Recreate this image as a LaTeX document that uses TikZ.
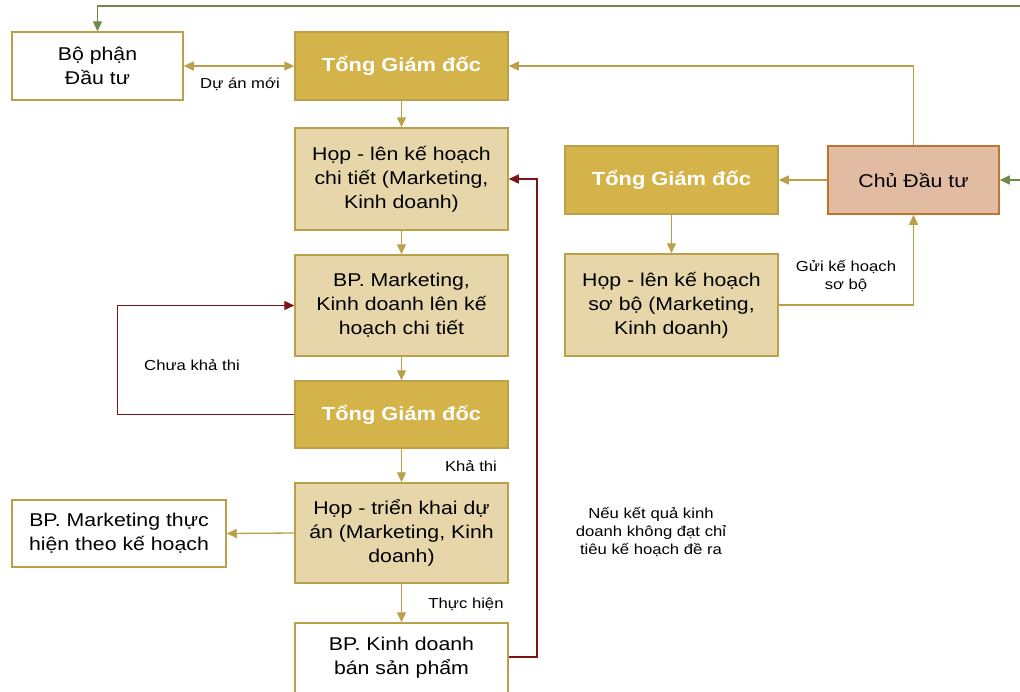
\documentclass[tikz,border=0pt]{standalone}
\usepackage{fontspec}
\setmainfont[FakeStretch=1.15]{Liberation Sans}
\usetikzlibrary{arrows.meta}
\definecolor{goldline}{HTML}{BBA04A}
\definecolor{darkgold}{HTML}{D4B44A}
\definecolor{tan}{HTML}{E6D6A9}
\definecolor{darkred}{HTML}{7A1515}
\definecolor{olivegreen}{HTML}{6F8A48}
\definecolor{salmon}{HTML}{E1BCA2}
\definecolor{salmonedge}{HTML}{C0752E}
\tikzset{
  box/.style={draw=goldline, line width=1.5pt, inner sep=0pt, align=center,
    font=\fontsize{18.5}{24}\selectfont},
  whitebox/.style={box, fill=white},
  tanbox/.style={box, fill=tan},
  goldbox/.style={box, fill=darkgold, text=white, font=\fontsize{19}{24}\selectfont\bfseries},
  chubox/.style={box, fill=salmon, draw=salmonedge},
  tip/.style={-{Triangle[length=10pt,width=9pt]}},
  conn/.style={draw=goldline, line width=1.3pt, tip},
  redconn/.style={draw=darkred, line width=1.4pt, tip},
  greenconn/.style={draw=olivegreen, line width=1.4pt, tip},
  lbl/.style={align=center, inner sep=0pt, font=\fontsize{14.5}{18}\selectfont}
}
\begin{document}
\begin{tikzpicture}[x=1pt,y=-1pt]
\useasboundingbox (0,0) rectangle (1020,691);
\clip (0,0) rectangle (1020,691);
% left column
\node[whitebox, minimum width=171pt, minimum height=68pt] (bo) at (97.5,66) {Bộ phận\\Đầu tư};
\node[goldbox, minimum width=213pt, minimum height=68pt] (tgd1) at (401.5,66) {Tổng Giám đốc};
\node[tanbox, minimum width=213pt, minimum height=102pt] (hop1) at (401.5,179) {Họp - lên kế hoạch\\chi tiết (Marketing,\\Kinh doanh)};
\node[tanbox, minimum width=213pt, minimum height=101pt] (bpm) at (401.5,305.5) {BP. Marketing,\\Kinh doanh lên kế\\hoạch chi tiết};
\node[goldbox, minimum width=213pt, minimum height=67pt] (tgd2) at (401.5,414.5) {Tổng Giám đốc};
\node[tanbox, minimum width=213pt, minimum height=100pt] (htk) at (401.5,533) {Họp - triển khai dự\\án (Marketing, Kinh\\doanh)};
\node[whitebox, minimum width=214pt, minimum height=67pt] (bpmth) at (119,533.5) {BP. Marketing thực\\hiện theo kế hoạch};
\node[whitebox, minimum width=213pt, minimum height=70pt] (bpkd) at (401.5,658) {BP. Kinh doanh\\bán sản phẩm};
% right column
\node[goldbox, minimum width=213pt, minimum height=68pt] (tgd3) at (671.5,180) {Tổng Giám đốc};
\node[chubox, minimum width=171pt, minimum height=68pt] (chu) at (913.5,180) {Chủ Đầu tư};
\node[tanbox, minimum width=213pt, minimum height=102pt] (hopsb) at (671.5,305) {Họp - lên kế hoạch\\sơ bộ (Marketing,\\Kinh doanh)};
% off-canvas source coordinates
\coordinate (gtop) at (1040,6);
\coordinate (gright) at (1040,180);
% connectors
\draw[conn, {Triangle[length=10pt,width=9pt]}-{Triangle[length=10pt,width=9pt]}] (bo.east) -- (tgd1.west);
\draw[conn] (tgd1) -- (hop1);
\draw[conn] (hop1) -- (bpm);
\draw[conn] (bpm) -- (tgd2);
\draw[conn] (tgd2) -- (htk);
\draw[conn] (htk) -- (bpkd);
\draw[conn] (htk.west) -- (bpmth.east);
\draw[redconn] (bpkd.east |- 0,657) -- (537,657) |- (hop1.east);
\draw[redconn] (tgd2.west) -- ++(-177,0) |- (bpm.west);
\draw[conn] (chu.west) -- (tgd3.east);
\draw[conn] (tgd3) -- (hopsb);
\draw[conn] (hopsb.east) -| (chu.south);
\draw[conn] (chu.north) |- (tgd1.east);
\draw[greenconn] (gtop) -| (bo.north);
\draw[greenconn] (gright) -- (chu.east);
% labels
\node[lbl] (l1) at (240,84) {Dự án mới};
\node[lbl] (l2) at (192,365) {Chưa khả thi};
\node[lbl] (l3) at (471,466) {Khả thi};
\node[lbl] (l4) at (466,604) {Thực hiện};
\node[lbl] (l5) at (846,276) {Gửi kế hoạch\\sơ bộ};
\node[lbl] (l6) at (651,532) {Nếu kết quả kinh\\doanh không đạt chỉ\\tiêu kế hoạch đề ra};
\end{tikzpicture}
\end{document}
